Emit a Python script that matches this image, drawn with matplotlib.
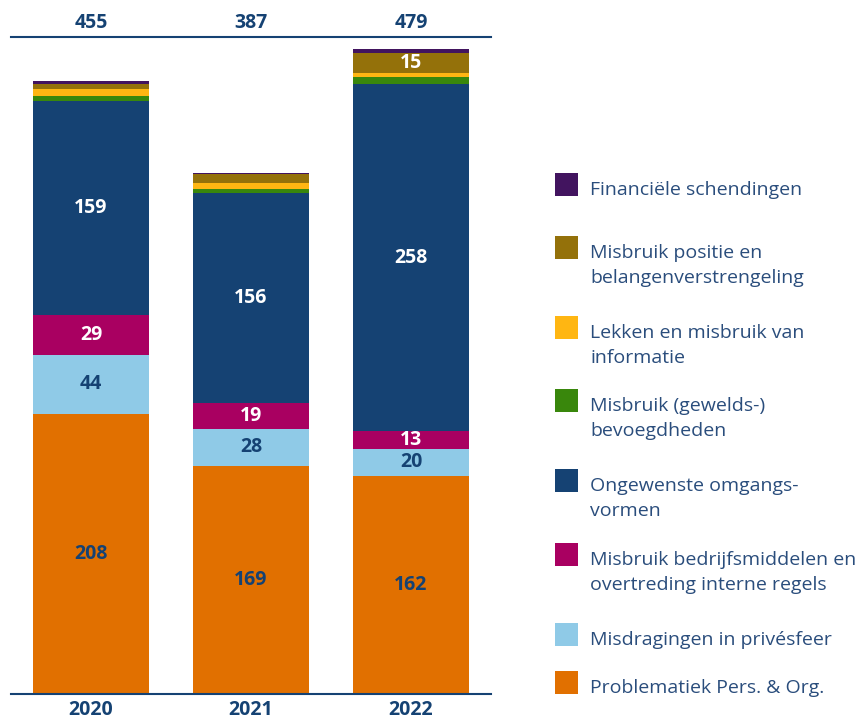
import matplotlib
matplotlib.use("Agg")
import matplotlib.pyplot as plt
from matplotlib.patches import Rectangle

plt.rcParams['font.family'] = ['Open Sans', 'DejaVu Sans']

years = ["2020", "2021", "2022"]
totals = [455, 387, 479]

# bottom to top
problematiek = [208, 169, 162]
misdragingen = [44, 28, 20]
bedrijfsmiddelen = [29, 19, 13]
omgangsvormen = [159, 156, 258]
gewelds = [4, 3, 5]
lekken = [5, 4, 3]
positie = [4, 7, 15]
financieel = [2, 1, 3]

series = [problematiek, misdragingen, bedrijfsmiddelen, omgangsvormen,
          gewelds, lekken, positie, financieel]
colors = ["#E17000", "#8FCAE7", "#A90061", "#154273",
          "#39870C", "#FFB612", "#94710A", "#42145F"]
label_colors = ["#154273", "#154273", "white", "white",
                "white", "#154273", "white", "white"]

legend_labels = [
    "Financiële schendingen",
    "Misbruik positie en\nbelangenverstrengeling",
    "Lekken en misbruik van\ninformatie",
    "Misbruik (gewelds-)\nbevoegdheden",
    "Ongewenste omgangs-\nvormen",
    "Misbruik bedrijfsmiddelen en\novertreding interne regels",
    "Misdragingen in privésfeer",
    "Problematiek Pers. & Org.",
]
legend_colors = colors[::-1]

navy = "#154273"
text_navy = "#2A4D7C"

W, H = 863, 721
fig = plt.figure(figsize=(W / 100, H / 100), dpi=100)
ax = fig.add_axes([11 / W, (H - 694) / H, 480 / W, 657 / H])

x = range(len(years))
bottom = [0, 0, 0]
for vals, col, lc in zip(series, colors, label_colors):
    ax.bar(x, vals, width=0.725, bottom=bottom, color=col, linewidth=0)
    for i, v in enumerate(vals):
        if v >= 10:
            ax.text(i, bottom[i] + v / 2, str(v), ha="center", va="center",
                    color=lc, fontsize=14, fontweight="bold")
    bottom = [b + v for b, v in zip(bottom, vals)]

ax.set_xlim(-0.5, 2.5)
ax.set_ylim(0, 657 / 1.347)
for s in ["left", "right"]:
    ax.spines[s].set_visible(False)
for s in ["top", "bottom"]:
    ax.spines[s].set_color(navy)
    ax.spines[s].set_linewidth(1.5)
ax.set_yticks([])
ax.set_xticks(list(x))
ax.set_xticklabels(years, fontsize=14, fontweight="bold", color=navy)
ax.tick_params(axis="x", length=0, pad=4.5)

for i, t in enumerate(totals):
    ax.annotate(str(t), xy=(i, 1), xycoords=("data", "axes fraction"),
                xytext=(0, 10), textcoords="offset points", ha="center",
                va="center", fontsize=14, fontweight="bold", color=navy)

# legend drawn manually
tops = [173, 236, 316, 389, 469, 543, 623, 671]
for top, lab, col in zip(tops, legend_labels, legend_colors):
    fig.patches.append(Rectangle((555 / W, (H - top - 23) / H), 23 / W, 23 / H,
                                 transform=fig.transFigure, color=col, linewidth=0))
    for k, line in enumerate(lab.split("\n")):
        fig.text(590 / W, (H - (top + 22 + 25 * k)) / H, line, ha="left",
                 va="baseline", fontsize=14, color=text_navy)

fig.savefig("out.png", dpi=100)
